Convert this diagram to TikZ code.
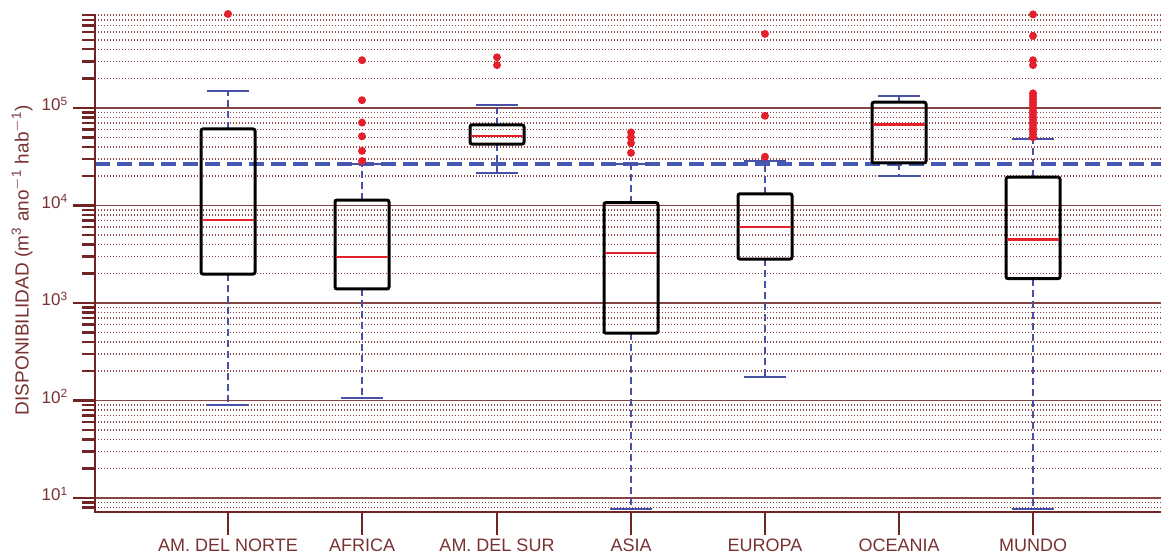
\documentclass[tikz,border=0pt]{standalone}
\usepackage{fontspec}
\setmainfont{Liberation Sans}
\usepackage{tikz}

\definecolor{axisred}{RGB}{112,36,36}
\definecolor{gridred}{RGB}{140,70,70}
\definecolor{textred}{RGB}{120,50,50}
\definecolor{whiskblue}{RGB}{72,80,168}
\definecolor{refblue}{RGB}{70,90,180}
\definecolor{dotred}{RGB}{228,32,44}

\begin{document}
\begin{tikzpicture}[x=0.5pt, y=48.75pt, thick]
  \tikzset{
    gridline/.style={gridred, line width=0.7pt, dash pattern=on 0.6pt off 0.9pt},
    decline/.style={axisred!85, line width=0.8pt},
    axisline/.style={axisred, line width=1.2pt},
    tickline/.style={axisred, line width=1.2pt},
    whisker/.style={whiskblue, line width=0.6pt, dash pattern=on 3.5pt off 2pt},
    capline/.style={whiskblue, line width=1pt},
    boxline/.style={black, line width=1.5pt, rounded corners=1pt},
    medline/.style={dotred, line width=1.2pt},
    outlier/.style={fill=dotred, draw=none},
    reflevel/.style={refblue, line width=2pt, dash pattern=on 7.5pt off 3.5pt},
    catlabel/.style={textred, font=\fontsize{9}{10}\selectfont, inner sep=0pt, anchor=base},
    decade/.style={textred, font=\fontsize{8.5}{10}\selectfont, anchor=east, inner sep=0pt}
  }
  \useasboundingbox (0,0.4256) rectangle (1161,6.1077);

  \foreach \k in {1, ..., 5} {
    \foreach \m in {2, ..., 9} {
      \draw [gridline] (95,{\k+log10(\m)}) -- (1161,{\k+log10(\m)});
      \draw [tickline] (82,{\k+log10(\m)}) -- (95,{\k+log10(\m)});
    }
    \draw [decline] (95,\k) -- (1161,\k);
    \draw [tickline] (73,\k) -- (95,\k);
    \node [decade] (dec-\k) at (69,\k+0.04) {10\textsuperscript{\k}};
  }
  \foreach \m in {8, 9} {
    \draw [gridline] (95,{log10(\m)}) -- (1161,{log10(\m)});
    \draw [tickline] (82,{log10(\m)}) -- (95,{log10(\m)});
  }

  \draw [reflevel] (95,4.426) -- (1161,4.426);

  \foreach \x/\lo/\qa/\md/\qb/\hi in {228/1.954/3.297/3.85/4.785/5.174,
      362/2.026/3.144/3.47/4.056/4.43, 497/4.33/4.63/4.71/4.826/5.03,
      631/0.887/2.69/3.51/4.03/4.43, 765/2.24/3.45/3.78/4.12/4.456,
      899/4.30/4.436/4.83/5.06/5.125, 1033/0.887/3.25/3.65/4.29/4.68} {
    \draw [whisker] (\x,\qb) -- (\x,\hi);
    \draw [whisker] (\x,\qa) -- (\x,\lo);
    \draw [capline] (\x-21,\hi) -- (\x+21,\hi);
    \draw [capline] (\x-21,\lo) -- (\x+21,\lo);
    \draw [boxline] (\x-27,\qa) rectangle (\x+27,\qb);
    \draw [medline] (\x-26,\md) -- (\x+26,\md);
  }

  \foreach \x/\v in {228/5.964, 362/5.49, 362/5.08, 362/4.85, 362/4.71,
      362/4.56, 362/4.456, 497/5.52, 497/5.44, 631/4.75, 631/4.70,
      631/4.64, 631/4.54, 765/5.76, 765/4.92, 765/4.50, 1033/5.96,
      1033/5.74, 1033/5.49, 1033/5.44} {
    \fill [outlier] (\x,\v) circle [radius=2pt];
  }
  \foreach \v in {4.70, 4.73, ..., 5.16} {
    \fill [outlier] (1033,\v) circle [radius=2pt];
  }

  \draw [axisline] (95,5.964) -- (95,0.856) -- (1161,0.856);

  \foreach \x/\name/\txt in {228/norte/AM. DEL NORTE, 362/africa/AFRICA,
      497/sur/AM. DEL SUR, 631/asia/ASIA, 765/europa/EUROPA,
      899/oceania/OCEANIA, 1033/mundo/MUNDO} {
    \draw [tickline] (\x,0.856) -- (\x,0.62);
    \node [catlabel] (lab-\name) at (\x,0.452) {\txt};
  }

  \node [textred, rotate=90, font=\fontsize{9.5}{11}\selectfont, inner sep=0pt]
        (ylabel) at (22,3.44)
        {DISPONIBILIDAD (m\textsuperscript{3} ano\textsuperscript{$-$1} hab\textsuperscript{$-$1})};
\end{tikzpicture}
\end{document}
